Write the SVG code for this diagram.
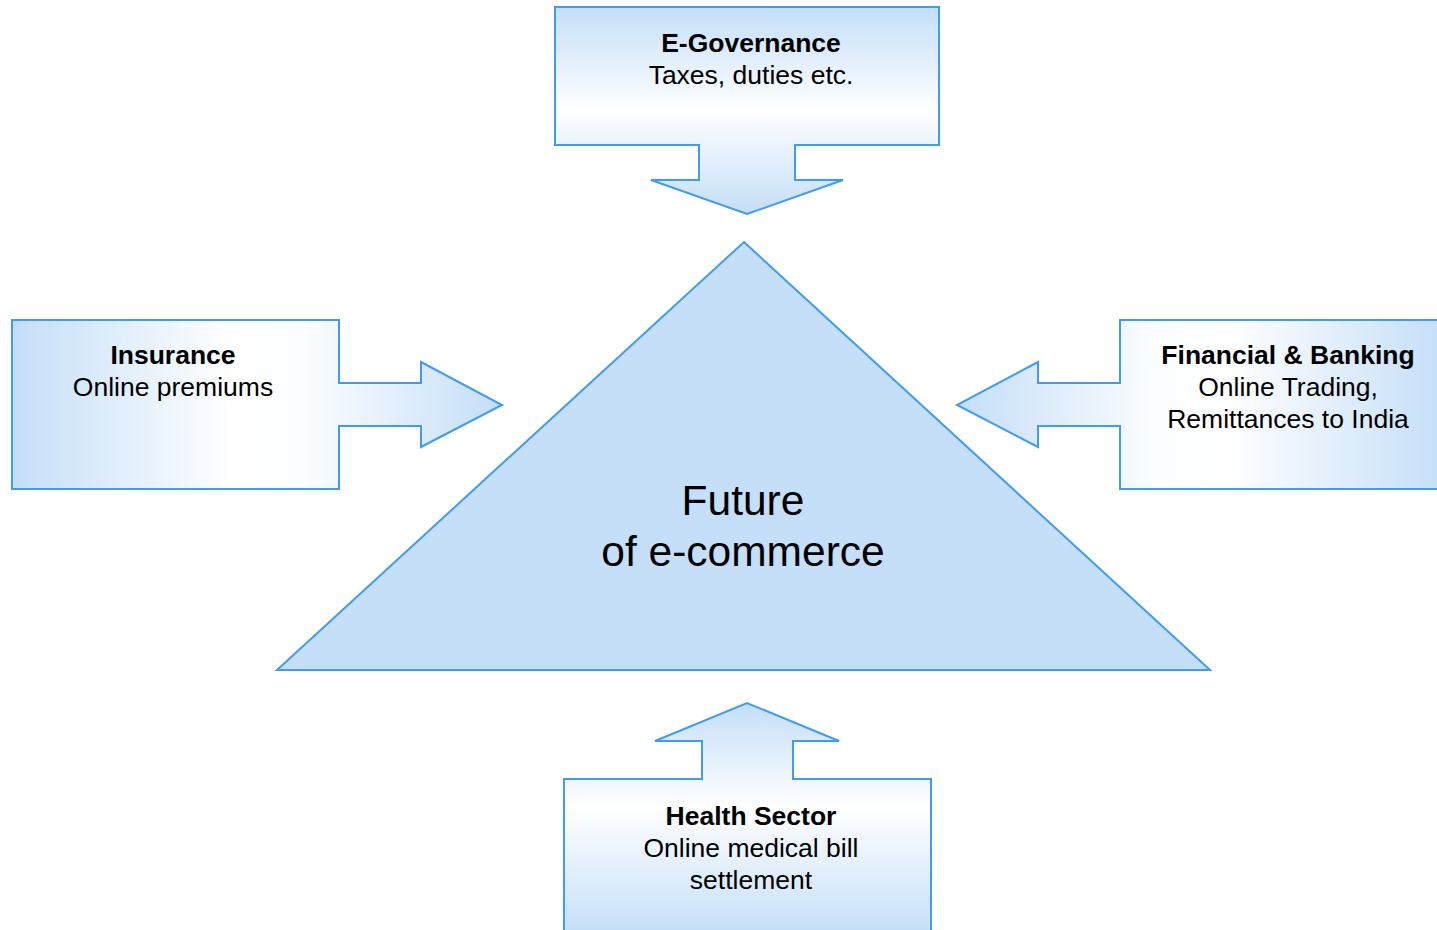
<svg xmlns="http://www.w3.org/2000/svg" width="1437" height="930" viewBox="0 0 1437 930">
  <style>
    .shape { stroke: #3f9cf0; stroke-width: 2; stroke-linejoin: miter; }
    .title { font-family: "Liberation Sans", Arial, sans-serif; font-size: 26.5px; font-weight: bold; fill: #000; text-anchor: middle; }
    .sub { font-family: "Liberation Sans", Arial, sans-serif; font-size: 26.5px; fill: #000; text-anchor: middle; }
    .center { font-family: "Liberation Sans", Arial, sans-serif; font-size: 42.5px; fill: #000; text-anchor: middle; }
  </style>
  <defs>
    <linearGradient id="gTop" gradientUnits="userSpaceOnUse" x1="0" y1="7" x2="0" y2="214">
      <stop offset="0" stop-color="#c4def8"/>
      <stop offset="0.5" stop-color="#ffffff"/>
      <stop offset="1" stop-color="#c4def8"/>
    </linearGradient>
    <linearGradient id="gLeft" gradientUnits="userSpaceOnUse" x1="12" y1="0" x2="502" y2="0">
      <stop offset="0" stop-color="#c4def8"/>
      <stop offset="0.45" stop-color="#ffffff"/>
      <stop offset="0.6" stop-color="#fbfdff"/>
      <stop offset="1" stop-color="#c4def8"/>
    </linearGradient>
    <linearGradient id="gRight" gradientUnits="userSpaceOnUse" x1="957" y1="0" x2="1447" y2="0">
      <stop offset="0" stop-color="#c4def8"/>
      <stop offset="0.4" stop-color="#fbfdff"/>
      <stop offset="0.55" stop-color="#ffffff"/>
      <stop offset="1" stop-color="#c4def8"/>
    </linearGradient>
    <linearGradient id="gBottom" gradientUnits="userSpaceOnUse" x1="0" y1="703" x2="0" y2="935">
      <stop offset="0" stop-color="#c4def8"/>
      <stop offset="0.45" stop-color="#ffffff"/>
      <stop offset="1" stop-color="#c4def8"/>
    </linearGradient>
  </defs>

  <rect width="1437" height="930" fill="#ffffff"/>

  <!-- central triangle -->
  <g id="future">
    <polygon class="shape" fill="#c5dff8" points="744,242 1210,670 277,670"/>
    <text class="center" x="743" y="515">Future</text>
    <text class="center" x="743" y="566">of e-commerce</text>
  </g>

  <!-- callouts pointing at the triangle -->
  <g id="connectors">
    <g id="e-governance">
      <path class="shape" fill="url(#gTop)" d="M555,7 H939 V145 H795 V180 H843 L747,214 L651,180 H699 V145 H555 Z"/>
      <text class="title" x="751" y="52">E-Governance</text>
      <text class="sub" x="751" y="84">Taxes, duties etc.</text>
    </g>
    <g id="insurance">
      <path class="shape" fill="url(#gLeft)" d="M12,320 H339 V383 H421 V362 L502,405 L421,447 V426 H339 V489 H12 Z"/>
      <text class="title" x="173" y="364">Insurance</text>
      <text class="sub" x="173" y="396">Online premiums</text>
    </g>
    <g id="financial-banking">
      <path class="shape" fill="url(#gRight)" d="M1448,320 H1120 V383 H1038 V362 L957,405 L1038,447 V426 H1120 V489 H1448 Z"/>
      <text class="title" x="1288" y="364">Financial &amp; Banking</text>
      <text class="sub" x="1288" y="396">Online Trading,</text>
      <text class="sub" x="1288" y="428">Remittances to India</text>
    </g>
    <g id="health-sector">
      <path class="shape" fill="url(#gBottom)" d="M564,945 V779 H702 V741 H655 L747,703 L839,741 H793 V779 H931 V945 Z"/>
      <text class="title" x="751" y="825">Health Sector</text>
      <text class="sub" x="751" y="857">Online medical bill</text>
      <text class="sub" x="751" y="889">settlement</text>
    </g>
  </g>
</svg>
